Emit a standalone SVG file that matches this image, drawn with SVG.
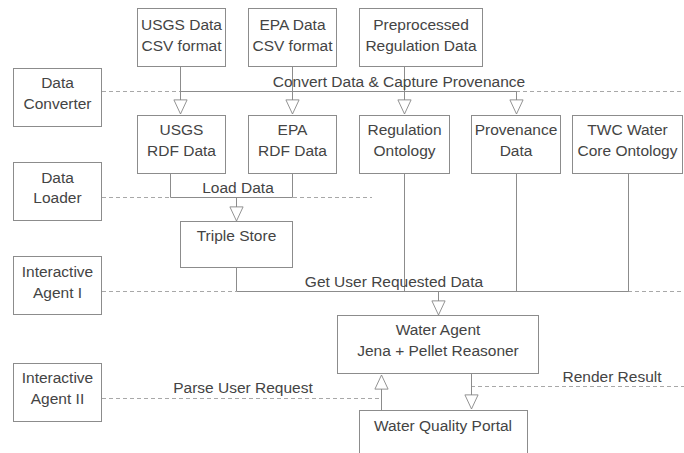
<svg xmlns="http://www.w3.org/2000/svg" width="684" height="453" viewBox="0 0 684 453">
<defs>
<style>
.box{fill:#fff;stroke:#8c8c8c;stroke-width:1}
.t{font-family:"Liberation Sans",Arial,sans-serif;font-size:15.5px;fill:#444;text-anchor:middle}
.ln{fill:none;stroke:#8c8c8c;stroke-width:1}
.dash{fill:none;stroke:#a8a8a8;stroke-width:1;stroke-dasharray:4 3}
</style>
<marker id="arr" markerUnits="userSpaceOnUse" markerWidth="16" markerHeight="16" refX="15" refY="7" orient="auto" viewBox="-1 -1 17 16">
<path d="M0,0 L15,7 L0,14 Z" fill="#fff" stroke="#8c8c8c" stroke-width="1"/>
</marker>
</defs>
<rect width="684" height="453" fill="#fff"/>

<g id="connectors">
<!-- dashed swimlane lines -->
<path class="dash" d="M102,91.5 H180"/>
<path class="dash" d="M516,91.5 H684"/>
<path class="dash" d="M102,197.5 H170"/>
<path class="dash" d="M293,197.5 H372"/>
<path class="dash" d="M102,291.5 H236"/>
<path class="dash" d="M628,291.5 H684"/>
<path class="dash" d="M102,398.5 H381"/>
<path class="dash" d="M471,386.5 H684"/>
<!-- convert -->
<path class="ln" d="M180.5,91.5 H516.5"/>
<path class="ln" d="M180.5,67 V114" marker-end="url(#arr)"/>
<path class="ln" d="M292.5,67 V114" marker-end="url(#arr)"/>
<path class="ln" d="M404.5,67 V114" marker-end="url(#arr)"/>
<path class="ln" d="M516.5,91.5 V114" marker-end="url(#arr)"/>
<!-- load -->
<path class="ln" d="M170.5,173 V197.5 H292.5 V173"/>
<path class="ln" d="M236.5,197.5 V221" marker-end="url(#arr)"/>
<!-- get user requested data -->
<path class="ln" d="M236.5,267 V291.5 H628.5 V173"/>
<path class="ln" d="M404.5,173 V291.5"/>
<path class="ln" d="M516.5,173 V291.5"/>
<path class="ln" d="M438.5,291.5 V315" marker-end="url(#arr)"/>
<!-- portal/agent -->
<path class="ln" d="M381.5,410 V375" marker-end="url(#arr)"/>
<path class="ln" d="M471.5,374 V409" marker-end="url(#arr)"/>
<text class="t" x="399" y="87">Convert Data &amp; Capture Provenance</text>
<text class="t" x="238" y="193">Load Data</text>
<text class="t" x="394" y="287">Get User Requested Data</text>
<text class="t" x="243" y="393">Parse User Request</text>
<text class="t" x="612" y="382">Render Result</text>
</g>

<g id="usgs-csv"><rect class="box" x="137.5" y="8.5" width="88" height="58"/><text class="t" x="181.5" y="30">USGS Data</text><text class="t" x="181.5" y="51">CSV format</text></g>
<g id="epa-csv"><rect class="box" x="248.5" y="8.5" width="88" height="58"/><text class="t" x="292.5" y="30">EPA Data</text><text class="t" x="292.5" y="51">CSV format</text></g>
<g id="preprocessed"><rect class="box" x="359.5" y="8.5" width="123" height="58"/><text class="t" x="421" y="30">Preprocessed</text><text class="t" x="421" y="51">Regulation Data</text></g>

<g id="data-converter"><rect class="box" x="13.5" y="68.5" width="88" height="58"/><text class="t" x="57.5" y="88">Data</text><text class="t" x="57.5" y="109">Converter</text></g>

<g id="usgs-rdf"><rect class="box" x="137.5" y="115.5" width="88" height="58"/><text class="t" x="181.5" y="135">USGS</text><text class="t" x="181.5" y="156">RDF Data</text></g>
<g id="epa-rdf"><rect class="box" x="248.5" y="115.5" width="88" height="58"/><text class="t" x="292.5" y="135">EPA</text><text class="t" x="292.5" y="156">RDF Data</text></g>
<g id="regulation-ontology"><rect class="box" x="359.5" y="115.5" width="90" height="58"/><text class="t" x="404.5" y="135">Regulation</text><text class="t" x="404.5" y="156">Ontology</text></g>
<g id="provenance-data"><rect class="box" x="471.5" y="115.5" width="89" height="58"/><text class="t" x="516" y="135">Provenance</text><text class="t" x="516" y="156">Data</text></g>
<g id="twc-ontology"><rect class="box" x="572.5" y="115.5" width="110" height="58"/><text class="t" x="627.5" y="135">TWC Water</text><text class="t" x="627.5" y="156">Core Ontology</text></g>

<g id="data-loader"><rect class="box" x="13.5" y="162.5" width="88" height="58"/><text class="t" x="57.5" y="183">Data</text><text class="t" x="57.5" y="203">Loader</text></g>

<g id="triple-store"><rect class="box" x="180.5" y="221.5" width="112" height="46"/><text class="t" x="236.5" y="241">Triple Store</text></g>

<g id="interactive-agent-1"><rect class="box" x="13.5" y="256.5" width="88" height="58"/><text class="t" x="57.5" y="277">Interactive</text><text class="t" x="57.5" y="297.5">Agent I</text></g>

<g id="water-agent"><rect class="box" x="337.5" y="315.5" width="201" height="58"/><text class="t" x="438" y="335">Water Agent</text><text class="t" x="438" y="356">Jena + Pellet Reasoner</text></g>

<g id="interactive-agent-2"><rect class="box" x="13.5" y="363.5" width="88" height="58"/><text class="t" x="57.5" y="383">Interactive</text><text class="t" x="57.5" y="404">Agent II</text></g>

<g id="water-quality-portal"><rect class="box" x="359.5" y="410.5" width="168" height="60"/><text class="t" x="443" y="431">Water Quality Portal</text></g>
</svg>
